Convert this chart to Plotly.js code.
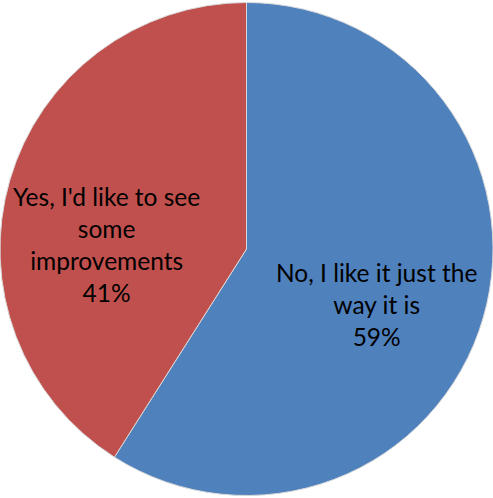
<!DOCTYPE html>
<html>
<head>
<meta charset="utf-8">
<script src="https://cdn.plot.ly/plotly-3.0.1.min.js"></script>
<style>html,body{margin:0;padding:0;background:#fff;}#chart{width:493px;height:498px;}</style>
</head>
<body>
<div id="chart"></div>
<script>
const labels = ["No, I like it just the way it is", "Yes, I'd like to see some improvements"];
const values = [59, 41];
const colors = ["#4F81BD", "#C0504D"];
const labelLines = [["No, I like it just the", "way it is"], ["Yes, I'd like to see", "some", "improvements"]];
const labelPos = [[0.764, 0.388], [0.217, 0.51]];

const total = values.reduce((a, b) => a + b, 0);
const annotations = labels.map((l, i) => ({
  xref: 'paper', yref: 'paper', x: labelPos[i][0], y: labelPos[i][1],
  xanchor: 'center', yanchor: 'middle', showarrow: false, align: 'center',
  text: labelLines[i].concat([Math.round(values[i] / total * 100) + '%']).join('<br>'),
  font: {family: 'Lato, sans-serif', size: 24.5, color: '#000'}
}));

Plotly.newPlot('chart', [{
  type: 'pie', labels: labels, values: values, sort: false, direction: 'clockwise', rotation: 0,
  marker: {colors: colors, line: {color: '#d9d9d9', width: 1}},
  textinfo: 'none', hoverinfo: 'none', showlegend: false,
  domain: {x: [0, 1], y: [0, 1]}
}], {
  width: 493, height: 498, margin: {l: 0, r: 0, t: 0, b: 0},
  paper_bgcolor: '#fff', showlegend: false, annotations: annotations
}, {staticPlot: true});
</script>
</body>
</html>
